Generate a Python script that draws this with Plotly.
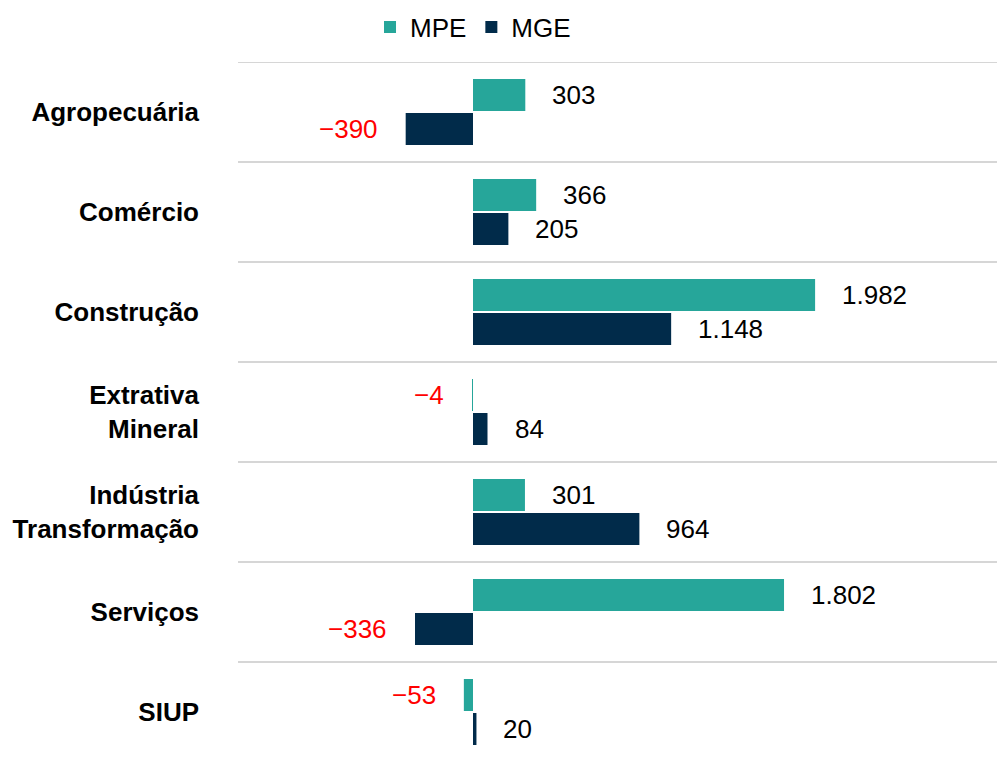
import plotly.graph_objects as go

categories = ["Agropecuária", "Comércio", "Construção", "Extrativa<br>Mineral",
              "Indústria<br>Transformação", "Serviços", "SIUP"]
mpe = [303, 366, 1982, -4, 301, 1802, -53]
mge = [-390, 205, 1148, 84, 964, -336, 20]
series = [("MPE", mpe, "#26A69A", -17), ("MGE", mge, "#012B4A", 17)]

FONT = "Liberation Sans, Arial, sans-serif"
FS = 26


def fmt(v):
    s = f"{abs(v):,}".replace(",", ".")
    return ("\u2212" + s) if v < 0 else s


fig = go.Figure()
for name, vals, color, _ in series:
    fig.add_trace(go.Bar(
        name=name, y=categories, x=vals, orientation="h",
        marker=dict(color=color, line=dict(width=0)),
        hoverinfo="skip",
    ))

annotations = []
for name, vals, color, yshift in series:
    for cat, v in zip(categories, vals):
        neg = v < 0
        annotations.append(dict(
            x=v, y=cat, xref="x", yref="y", text=fmt(v), showarrow=False,
            xanchor="right" if neg else "left", yanchor="middle",
            xshift=-26 if neg else 25, yshift=-yshift,
            font=dict(family=FONT, size=FS, color="#FF0000" if neg else "#000000"),
        ))

shapes = []
for k in range(len(categories) + 1):
    shapes.append(dict(
        type="line", xref="paper", yref="y", x0=0, x1=1,
        y0=k - 0.5, y1=k - 0.5,
        line=dict(color="#C8C8C8", width=1.5), layer="below",
    ))

fig.update_layout(
    width=997, height=742,
    margin=dict(l=230, r=0, t=54, b=0),
    paper_bgcolor="white", plot_bgcolor="white",
    barmode="group", bargap=0.32, bargroupgap=0.06,
    font=dict(family=FONT, size=FS, color="#000000"),
    showlegend=True,
    legend=dict(orientation="h", x=0.3064, xanchor="center",
                yref="container", y=0.9744, yanchor="middle",
                font=dict(family=FONT, size=FS, color="#000000"),
                bgcolor="rgba(0,0,0,0)"),
    xaxis=dict(range=[-1361.5, 3082.2], showgrid=False, zeroline=False,
               showticklabels=False, showline=False, ticks=""),
    yaxis=dict(type="category", range=[6.38, -0.5], showgrid=False,
               zeroline=False, showline=False, ticks="",
               ticklabelstandoff=38,
               tickfont=dict(family=FONT, size=FS, color="#000000", weight="bold")),
    annotations=annotations,
    shapes=shapes,
)

fig.write_html("out.html")
